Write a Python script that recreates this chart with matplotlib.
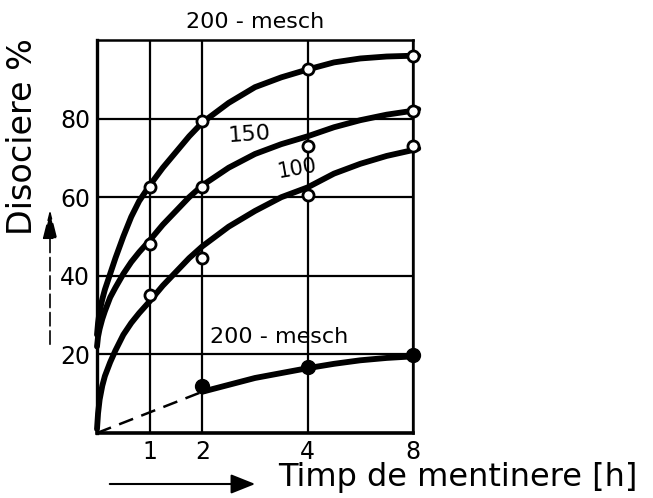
import numpy as np
import matplotlib
matplotlib.use("Agg")
import matplotlib.pyplot as plt
from matplotlib.patches import FancyArrowPatch

# time axis: 0..4 h linear, 4..8 h squeezed (as on the original sheet)
t_marks = [0, 1, 2, 4, 8, 16]
t_pos = [0, 1, 2, 4, 6, 8]

# smooth curves, read at these times [h]
t_curve = [0, 0.02, 0.05, 0.1, 0.15, 0.25, 0.35, 0.5, 0.65, 0.8, 1, 1.25, 1.5,
           1.75, 2, 2.5, 3, 3.5, 4, 5, 6, 7, 8, 8.4]
c_200 = [25, 28, 31, 34, 36.5, 40.5, 44.5, 50, 55, 59, 63, 67.5, 71.5,
         75.5, 79, 84, 88, 90.5, 92.5, 94.3, 95.3, 95.8, 96, 96]
c_150 = [22, 24.5, 26.5, 29, 31, 34.5, 37, 40.5, 43.5, 46, 49, 53, 56.5,
         60, 63, 67.5, 71, 73.5, 75.5, 77.8, 79.6, 81, 82, 82.4]
c_100 = [1, 5, 8.5, 12, 14.5, 18, 21, 25, 28, 30.5, 33.5, 37.5, 41,
         44.5, 47.5, 52.5, 56.5, 60, 62.5, 66, 68.5, 70.5, 72, 72.4]

# measured points (open circles)
t_pts = [1, 2, 4, 8]
p_200 = [62.5, 79.5, 92.5, 96]
p_150 = [48, 62.5, 73, 82]
p_100 = [35, 44.5, 60.5, 73]

# sieved 200 mesh fraction (filled dots), dashed part towards origin
t_fine_dash = [0, 2]
c_fine_dash = [0, 10.5]
t_fine = [2, 3, 4, 5, 6, 7, 8, 8.3]
c_fine = [10.5, 14, 16.5, 17.6, 18.5, 19.1, 19.5, 19.6]
t_fine_pts = [2, 4, 8]
p_fine = [12, 16.8, 19.8]

x_ticks = [1, 2, 4, 8]
x_labels = ['1', '2', '4', '8']
y_ticks = [20, 40, 60, 80]
y_labels = ['20', '40', '60', '80']


def fwd(t):
    return np.interp(t, t_marks, t_pos)


def inv(p):
    return np.interp(p, t_pos, t_marks)


W, H = 653, 498
fig = plt.figure(figsize=(W / 100, H / 100), dpi=100)
ax = fig.add_axes([97 / W, 1 - 433 / H, 316 / W, 393 / H])
ax.set_xscale('function', functions=(fwd, inv))
ax.set_xlim(0, 8)
ax.set_ylim(0, 100)

ax.set_xticks(x_ticks)
ax.set_xticklabels(x_labels)
ax.set_yticks(y_ticks)
ax.set_yticklabels(y_labels)
ax.tick_params(length=0, labelsize=17, pad=5)
ax.grid(True, color='black', lw=1.6)
for s in ax.spines.values():
    s.set_linewidth(1.8)
ax.spines['bottom'].set_linewidth(2.6)
ax.spines['left'].set_linewidth(2.4)

curve_kw = dict(color='black', lw=4.2, solid_capstyle='round', solid_joinstyle='round',
                zorder=3, clip_on=False)
ax.plot(t_curve, c_200, **curve_kw)
ax.plot(t_curve, c_150, **curve_kw)
ax.plot(t_curve, c_100, **curve_kw)

open_kw = dict(ls='none', marker='o', ms=8, mfc='white', mec='black', mew=2, zorder=4, clip_on=False)
ax.plot(t_pts, p_200, **open_kw)
ax.plot(t_pts, p_150, **open_kw)
ax.plot(t_pts, p_100, **open_kw)

ax.plot(t_fine_dash, c_fine_dash, color='black', lw=1.8, ls=(0, (6, 3.5)), zorder=3)
ax.plot(t_fine, c_fine, **curve_kw)
ax.plot(t_fine_pts, p_fine, ls='none', marker='o', ms=10, color='black', zorder=4, clip_on=False)

# curve labels
ax.text(3.0, 104.5, '200 - mesch', fontsize=16, ha='center', va='center', clip_on=False)
ax.text(2.9, 76, '150', fontsize=16, ha='center', va='center', rotation=4)
ax.text(3.8, 67.3, '100', fontsize=15, ha='center', va='center', rotation=10)
ax.text(3.45, 24.5, '200 - mesch', fontsize=16, ha='center', va='center')

# axis titles with hand-drawn style arrows
fig.text(278 / W, 1 - 477 / H, 'Timp de mentinere [h]', fontsize=23, ha='left', va='center')
fig.text(23 / W, 1 - 137 / H, 'Disociere %', fontsize=24, rotation=90, ha='center', va='center')
fig.patches.append(FancyArrowPatch((107 / W, 1 - 484 / H), (258 / W, 1 - 484 / H),
                                   transform=fig.transFigure, arrowstyle='-|>,head_length=10,head_width=4',
                                   color='black', lw=1.5, mutation_scale=1.5))
fig.patches.append(FancyArrowPatch((50 / W, 1 - 347 / H), (50 / W, 1 - 207 / H),
                                   transform=fig.transFigure, arrowstyle='-|>,head_length=12,head_width=3',
                                   color='black', lw=1.2, ls=(0, (8, 3)), mutation_scale=1.5))

fig.savefig('out.png', dpi=100)
